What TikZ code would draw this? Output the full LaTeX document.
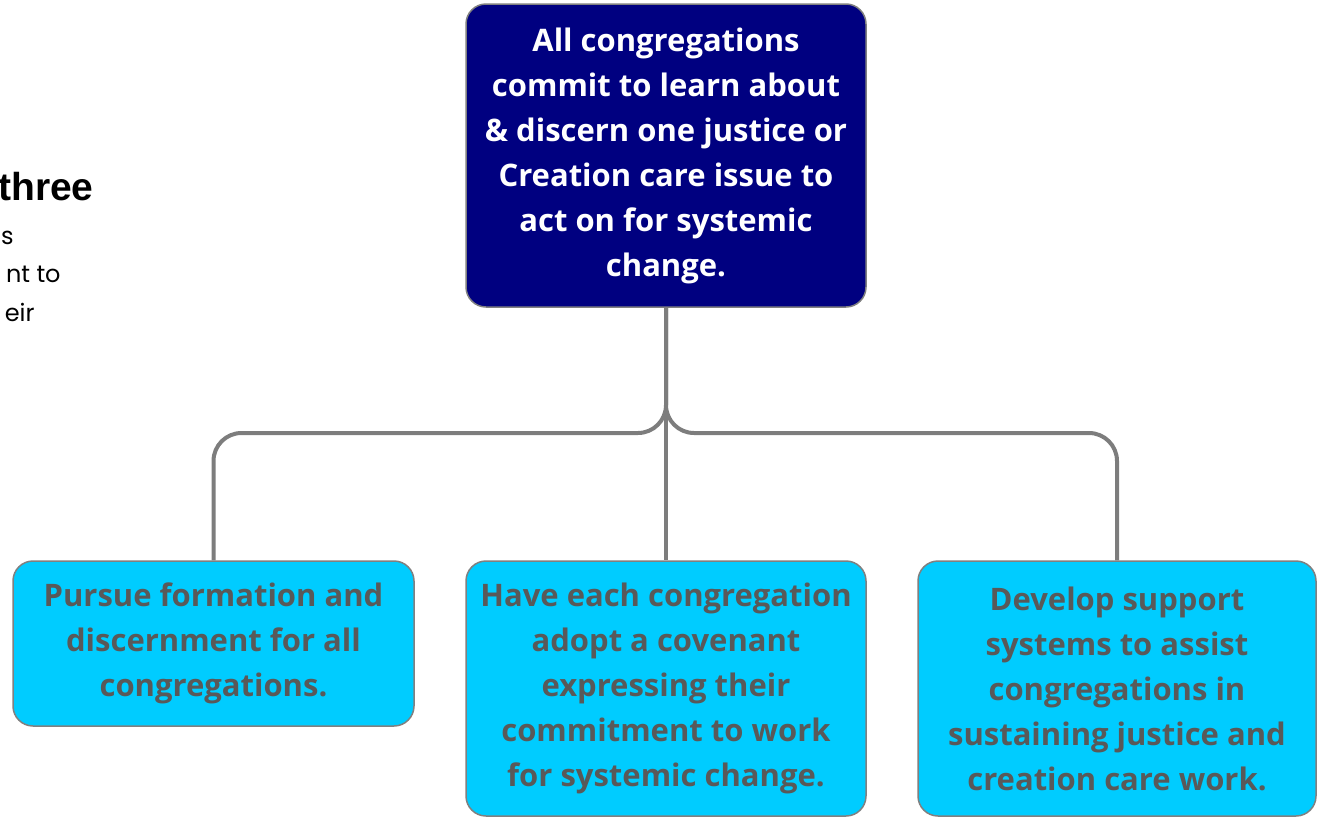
\documentclass[tikz,border=0pt]{standalone}
\usepackage{fontspec}
\usepackage{tikz}
\usetikzlibrary{positioning}
\newfontfamily\boxfont{Open Sans}
\newfontfamily\headfont{Liberation Sans}
\newfontfamily\bodyfont{Poppins}
\definecolor{navy}{RGB}{0,0,128}
\definecolor{skyfill}{RGB}{0,204,255}
\definecolor{boxtext}{RGB}{89,89,89}
\definecolor{linkgray}{RGB}{125,125,125}

\begin{document}
\begin{tikzpicture}[x=1pt,y=-1pt,thick,
                    main node/.style={draw=gray,line width=1.5pt,rounded corners=20pt,fill=navy,text=white,
                      align=center,minimum width=400pt,minimum height=303pt,inner sep=4pt,
                      font=\boxfont\bfseries\fontsize{31}{45}\selectfont},
                    sub node/.style={main node,fill=skyfill,text=boxtext,minimum height=255pt},
                    link/.style={draw=linkgray,line width=4pt,rounded corners=28pt}]
  \useasboundingbox (0,0) rectangle (1317,817);

  % cut-off text at the left edge
  \node[anchor=base east,font=\headfont\bfseries\fontsize{39}{40}\selectfont,inner sep=0pt] (head) at (94,200) {three};
  \node[anchor=base east,font=\bodyfont\fontsize{24}{30}\selectfont,inner sep=0pt] (l1) at (14,244) {s};
  \node[anchor=base east,font=\bodyfont\fontsize{24}{30}\selectfont,inner sep=0pt] (l2) at (61,282) {nt to};
  \node[anchor=base east,font=\bodyfont\fontsize{24}{30}\selectfont,inner sep=0pt] (l3) at (35,321) {eir};

  \node[main node] (top) at (666,155.5) {All congregations\\commit to learn about\\\& discern one justice or\\Creation care issue to\\act on for systemic\\change.};
  \node[sub node,minimum width=401pt,minimum height=165pt] (left) at (213.5,643.5) {Pursue formation and\\discernment for all\\congregations.};
  \node[sub node] (mid) at (666,688.5) {Have each congregation\\adopt a covenant\\expressing their\\commitment to work\\for systemic change.};
  \node[sub node,minimum width=398pt] (right) at (1117,688.5) {Develop support\\systems to assist\\congregations in\\sustaining justice and\\creation care work.};

  \coordinate (bus) at (666,433);
  \draw[link] (top.south) -- (top.south |- bus) -- (left.north |- bus) -- (left.north);
  \draw[link] (top.south) -- (top.south |- bus) -- (right.north |- bus) -- (right.north);
  \draw[link] (top.south) -- (mid.north);
\end{tikzpicture}
\end{document}
